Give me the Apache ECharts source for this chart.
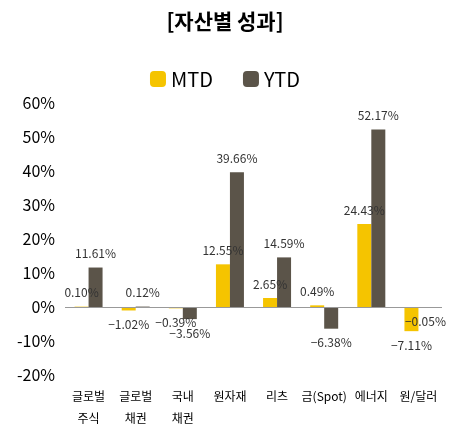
<!DOCTYPE html><html><head><meta charset="utf-8">
<script src="https://cdn.jsdelivr.net/npm/echarts@6/dist/echarts.min.js"></script>
<style>body{margin:0}#c{width:450px;height:429px}</style></head><body><div id="c"></div>
<script>
const categories=['글로벌\n주식','글로벌\n채권','국내\n채권','원자재','리츠','금(Spot)','에너지','원/달러'];
const mtd=[0.10,-1.02,-0.39,12.55,2.65,0.49,24.43,-7.11];
const ytd=[11.61,0.12,-3.56,39.66,14.59,-6.38,52.17,-0.05];
const yTicks={min:-20,max:60,interval:10};
const fmt=p=>p.value.toFixed(2).replace('-','−')+'%';
const lab={show:true,fontSize:12,color:'#333',fontFamily:'Noto Sans CJK KR',formatter:fmt,distance:8};
const c=echarts.init(document.getElementById('c'));
c.setOption({
 title:{text:'[자산별 성과]',left:'center',top:6,textStyle:{fontSize:21,fontWeight:'bold',color:'#000',fontFamily:'Noto Sans CJK KR'}},
 legend:{top:64,left:'center',itemWidth:16,itemHeight:16,itemGap:30,textStyle:{fontSize:20,color:'#000',fontFamily:'Noto Sans CJK KR'},data:['MTD','YTD']},
 grid:{left:65,right:8,top:103,bottom:51},
 xAxis:{type:'category',data:categories,axisLine:{show:false,onZero:false},axisTick:{show:false},
  axisLabel:{interval:0,fontSize:12,color:'#000',lineHeight:22,fontFamily:'Noto Sans CJK KR',margin:10}},
 yAxis:{type:'value',min:yTicks.min,max:yTicks.max,interval:yTicks.interval,splitLine:{show:false},axisLine:{show:false},axisTick:{show:false},
  axisLabel:{formatter:'{value}%',fontSize:16,color:'#000',fontFamily:'Noto Sans CJK KR',margin:10}},
 series:[
  {name:'MTD',type:'bar',data:mtd.map(v=>({value:v,label:{position:v<0?'bottom':'top'}})),barWidth:14,barGap:'0%',itemStyle:{color:'#F5C400'},
   label:lab,
   markLine:{silent:true,symbol:'none',label:{show:false},lineStyle:{color:'#999',type:'solid',width:1},data:[{yAxis:0}]}},
  {name:'YTD',type:'bar',data:ytd.map(v=>({value:v,label:{position:v<0?'bottom':'top'}})),barWidth:14,itemStyle:{color:'#5B5449'},label:lab}
 ]
});
</script></body></html>
